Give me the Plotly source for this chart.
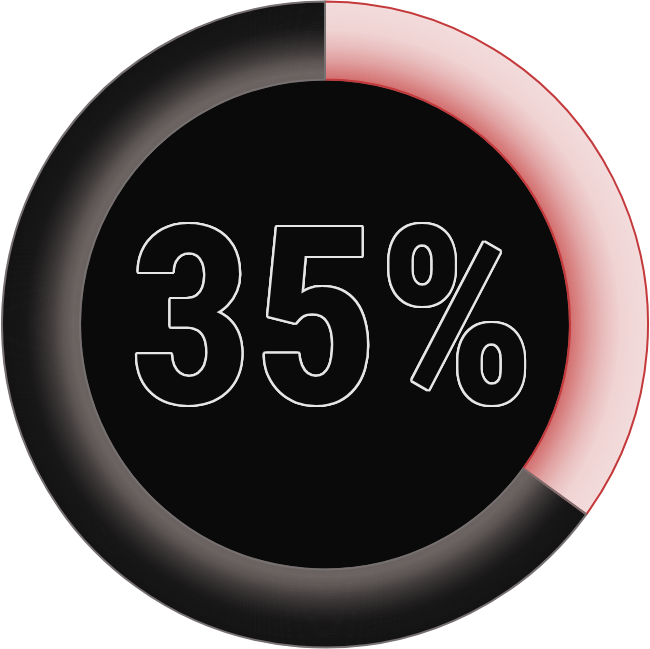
import plotly.graph_objects as go

# ---- data ----
labels = ["Completed", "Remaining"]
values = [35, 65]
center_label = "35%"

# ---- style ----
W, H = 650, 649
R_OUT, R_IN = 323.0, 245.0
N_RINGS = 40

def hex2rgb(h):
    h = h.lstrip("#")
    return tuple(int(h[i:i + 2], 16) for i in (0, 2, 4))

def interp(stops, r):
    for (r0, c0), (r1, c1) in zip(stops, stops[1:]):
        if r0 <= r <= r1:
            t = (r - r0) / (r1 - r0) if r1 != r0 else 0
            a, b = hex2rgb(c0), hex2rgb(c1)
            return "rgb(%d,%d,%d)" % tuple(round(a[i] + (b[i] - a[i]) * t) for i in range(3))
    return stops[0][1] if r < stops[0][0] else stops[-1][1]

red_stops = [(245, "#d26e6e"), (252, "#d88080"), (265, "#e1a2a2"),
             (280, "#eabfbf"), (295, "#f0d3d3"), (323, "#f3dcdc")]
dark_stops = [(245, "#6a6260"), (252, "#6c6462"), (262, "#5c5553"),
              (275, "#3d3938"), (290, "#232121"), (300, "#171717"), (323, "#131313")]

fig = go.Figure()

def dom(r):
    return dict(x=[0.5 - r / W, 0.5 + r / W], y=[0.5 - r / H, 0.5 + r / H])

# centre disk
fig.add_trace(go.Pie(values=[sum(values)], labels=["centre"], sort=False,
                     marker=dict(colors=["#0a0a0a"], line=dict(width=0)),
                     textinfo="none", hoverinfo="skip", showlegend=False,
                     domain=dom(R_IN + 1)))

step = (R_OUT - R_IN) / N_RINGS
for k in range(N_RINGS):
    r_o = R_OUT - k * step
    r_i = r_o - step
    rm = (r_o + r_i) / 2
    cols = [interp(red_stops, rm), interp(dark_stops, rm)]
    fig.add_trace(go.Pie(values=values, labels=labels, sort=False,
                         direction="clockwise", rotation=0,
                         hole=max(r_i - 0.6, 0) / r_o,
                         marker=dict(colors=cols, line=dict(color=cols, width=0.6)),
                         textinfo="none", hoverinfo="skip", showlegend=False,
                         domain=dom(r_o)))

# outlines
fig.add_trace(go.Pie(values=values, labels=labels, sort=False,
                     direction="clockwise", rotation=0, hole=R_IN / R_OUT,
                     marker=dict(colors=["rgba(0,0,0,0)", "rgba(0,0,0,0)"],
                                 line=dict(color=["#c4393b", "#767070"], width=2)),
                     textinfo="none", hoverinfo="skip", showlegend=False,
                     domain=dom(R_OUT)))

d = 2.2
e = 1.6
f = 1.0
outline = ", ".join("%gpx %gpx 0 #e6e6e6" % (dx, dy) for dx, dy in
                    [(d, 0), (-d, 0), (0, d), (0, -d),
                     (e, e), (-e, e), (e, -e), (-e, -e),
                     (d, f), (-d, f), (d, -f), (-d, -f),
                     (f, d), (-f, d), (f, -d), (-f, -d)])

fig.add_annotation(text=center_label, x=0.5, y=0.5, xref="paper", yref="paper",
                   showarrow=False, xanchor="center", yanchor="middle",
                   xshift=7, yshift=6,
                   font=dict(family="Roboto Condensed, DejaVu Sans Condensed, sans-serif",
                             size=246, color="#0a0a0a", weight="bold", shadow=outline))

fig.update_layout(width=W, height=H, margin=dict(l=0, r=0, t=0, b=0),
                  paper_bgcolor="white", plot_bgcolor="white", showlegend=False)

fig.write_html("out.html", config={"displayModeBar": False},
               post_script="document.body.style.margin='0px';document.body.style.padding='0px';")
